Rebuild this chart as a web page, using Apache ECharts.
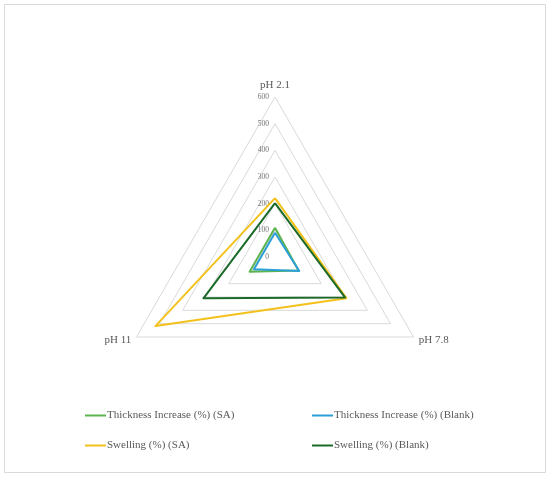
<!DOCTYPE html>
<html>
<head>
<meta charset="utf-8">
<script src="https://cdn.jsdelivr.net/npm/echarts@6/dist/echarts.min.js"></script>
<style>html,body{margin:0;padding:0;background:#fff;}#c{width:550px;height:478px;}</style>
</head>
<body>
<div id="c"></div>
<script>
// categories listed in the order ECharts places them (counter-clockwise from top)
var categories = ['pH 2.1', 'pH 11', 'pH 7.8'];
var seriesNames = ['Thickness Increase (%) (SA)', 'Thickness Increase (%) (Blank)', 'Swelling (%) (SA)', 'Swelling (%) (Blank)'];
var thicknessSA = [110, 110, 102];
var thicknessBlank = [91, 91, 105];
var swellingSA = [221, 518, 309];
var swellingBlank = [202, 310, 303];
var axisMax = 600;
var axisStep = 100;

var colors = ['#5CB44C', '#2B9FD6', '#F2C11B', '#1C6A2A'];
var values = [thicknessSA, thicknessBlank, swellingSA, swellingBlank];
var font = '"Liberation Serif", "DejaVu Serif", serif';

var chart = echarts.init(document.getElementById('c'), null, {renderer: 'canvas'});

var indicator = categories.map(function (c, i) {
  return {
    name: c, min: 0, max: axisMax,
    axisLabel: {show: i === 0}
  };
});

var series = seriesNames.map(function (n, i) {
  return {
    name: n,
    type: 'radar',
    symbol: 'none',
    lineStyle: {color: colors[i], width: 2},
    itemStyle: {color: colors[i]},
    data: [{value: values[i], name: n}]
  };
});

function legend(name, left, top) {
  return {
    data: [name], left: left, top: top,
    icon: 'rect', itemWidth: 21, itemHeight: 2, itemGap: 0,
    textStyle: {fontFamily: font, fontSize: 11, color: '#595959', padding: [0, 0, 0, -4]}
  };
}

chart.setOption({
  animation: false,
  color: colors,
  legend: [
    legend(seriesNames[0], 80, 405),
    legend(seriesNames[1], 307, 405),
    legend(seriesNames[2], 80, 435),
    legend(seriesNames[3], 307, 435)
  ],
  graphic: [{
    type: 'rect', shape: {x: 4.5, y: 4.5, width: 541, height: 468},
    style: {fill: 'none', stroke: '#d9d9d9', lineWidth: 1}, silent: true
  }],
  radar: {
    center: [275, 257],
    radius: 160,
    startAngle: 90,
    shape: 'polygon',
    splitNumber: axisMax / axisStep,
    nameGap: 6,
    axisName: {fontFamily: font, fontSize: 11, color: '#595959'},
    axisLine: {show: false},
    axisTick: {show: false},
    axisLabel: {fontFamily: font, fontSize: 7.5, color: '#737373', margin: 6},
    splitLine: {lineStyle: {color: '#d9d9d9', width: 1}},
    splitArea: {show: false},
    indicator: indicator
  },
  series: series
});
</script>
</body>
</html>
